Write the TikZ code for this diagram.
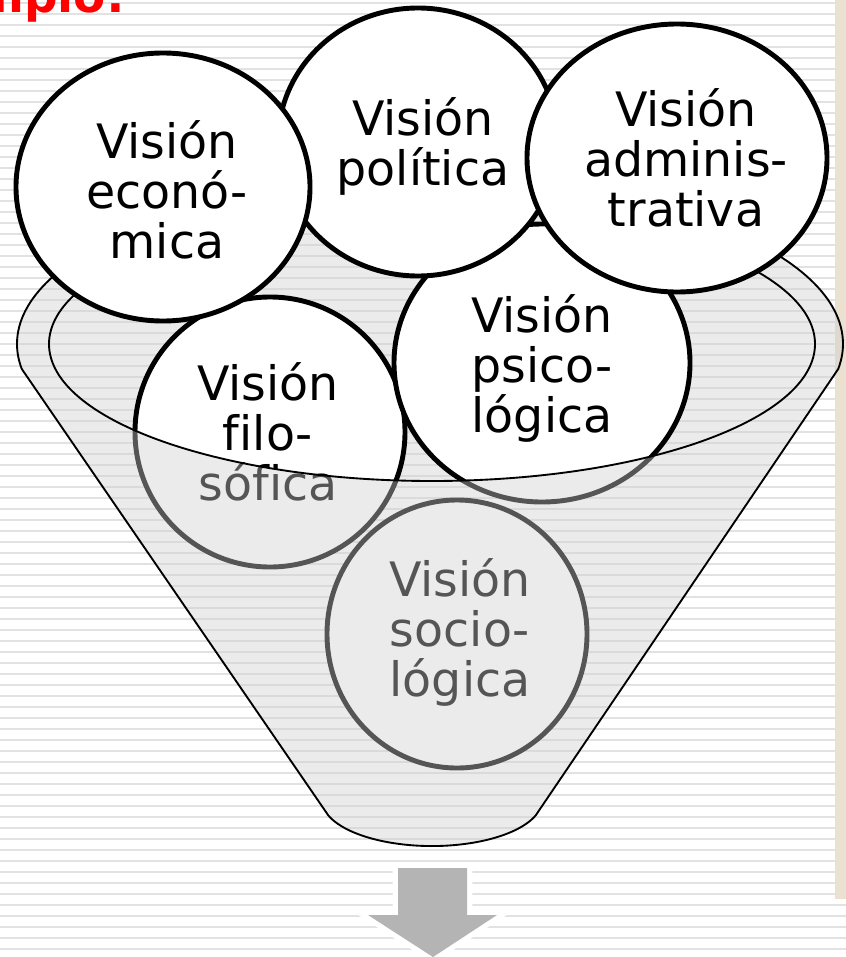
\documentclass[tikz,border=0pt]{standalone}
\usepackage{fontspec}
\setmainfont[Ligatures=NoCommon]{DejaVu Sans}

\definecolor{stripegray}{RGB}{226,226,226}
\definecolor{funnelgray}{RGB}{207,207,207}
\definecolor{arrowgray}{RGB}{180,180,180}
\definecolor{edgebeige}{RGB}{234,225,208}
\definecolor{titlered}{RGB}{255,0,0}

\tikzset{
	vision/.style={draw=black, line width=4.2pt, fill=white},
	visiontext/.style={align=center, inner sep=0pt, font=\fontsize{40.5}{42.7}\selectfont},
	funnelfill/.style={fill=funnelgray, fill opacity=0.41},
	funnelline/.style={draw=black, line width=1.6pt},
}

\begin{document}
\begin{tikzpicture}[x=0.03cm, y=-0.03cm]
	\useasboundingbox (0,0) rectangle (846,957);
	
	% Draw the striped background
	\fill[white] (0,0) rectangle (846,957);
	\foreach \k in {0,...,86} {
		\fill[stripegray] (0,2.3+11*\k) rectangle (846,4.3+11*\k);
	}
	\fill[edgebeige] (835,0) rectangle (846,899);
	
	% Draw the title
	\node[font=\fontsize{40}{40}\selectfont\bfseries, text=titlered, anchor=base east, inner sep=0pt] (title) at (125,13) {mplo:};
	
	% Draw the back of the funnel
	\fill[funnelfill] (17,344) arc[start angle=180, end angle=360, x radius=413, y radius=165]
		-- (815,344) arc[start angle=0, end angle=180, x radius=383, y radius=137] -- cycle;
	\draw[funnelline] (17,344) arc[start angle=180, end angle=360, x radius=413, y radius=165];
	\draw[funnelline] (815,344) arc[start angle=0, end angle=-180, x radius=383, y radius=137];
	
	% Draw the circles with their texts
	\draw[vision] (457,634) ellipse [x radius=130, y radius=134];
	\node[visiontext] (socio) at (460,632) {Visión\\socio-\\lógica};
	
	\draw[vision] (270,432) ellipse [x radius=135, y radius=135];
	\node[visiontext] (filo) at (268,432) {Visión\\filo-\\sófica};
	
	\draw[vision] (542,363) ellipse [x radius=148, y radius=139];
	\node[visiontext] (psico) at (542,368) {Visión\\psico-\\lógica};
	
	\draw[vision] (418,142) ellipse [x radius=140, y radius=134];
	\node[visiontext] (polit) at (423,146) {Visión\\política};
	
	\draw[vision] (163,187) ellipse [x radius=147, y radius=134];
	\node[visiontext] (econ) at (167,190) {Visión\\econó-\\mica};
	
	\draw[vision] (677,158) ellipse [x radius=150, y radius=134];
	\node[visiontext] (admin) at (686,158) {Visión\\adminis-\\trativa};
	
	% Draw the front of the funnel
	\fill[funnelfill] (49,344) arc[start angle=180, end angle=0, x radius=383, y radius=137]
		-- (843,344) arc[start angle=0, end angle=8.7, x radius=413, y radius=165]
		-- (535.7,815.4) arc[start angle=19.5, end angle=160.5, x radius=110, y radius=46]
		-- (21.8,369) arc[start angle=171.3, end angle=180, x radius=413, y radius=165] -- cycle;
	\draw[funnelline] (17,344) arc[start angle=180, end angle=171.3, x radius=413, y radius=165]
		-- (328.3,815.4) arc[start angle=160.5, end angle=19.5, x radius=110, y radius=46]
		-- (838.2,369) arc[start angle=8.7, end angle=0, x radius=413, y radius=165];
	\draw[funnelline] (49,344) arc[start angle=180, end angle=0, x radius=383, y radius=137];
	
	% Draw the arrow below the funnel
	\fill[arrowgray, preaction={draw=white, line width=9pt, line join=miter}]
		(398,868) -- (467,868) -- (467,915) -- (497,915) -- (433,957) -- (368,915) -- (398,915) -- cycle;
	
\end{tikzpicture}
\end{document}
